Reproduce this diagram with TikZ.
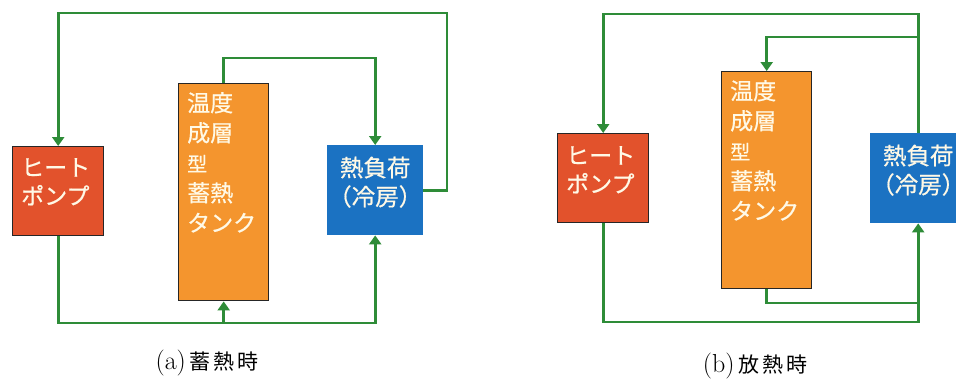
\documentclass[tikz,border=0pt]{standalone}
\usepackage{fontspec}
\newfontfamily\jp{Noto Sans CJK JP}
\newfontfamily\jpb[FakeBold=0.6]{Noto Sans CJK JP}
\usetikzlibrary{arrows.meta}
\definecolor{pipegreen}{HTML}{2E8C38}
\definecolor{hpred}{HTML}{E2522C}
\definecolor{tankor}{HTML}{F4952E}
\definecolor{loadblue}{HTML}{1B72C2}
\definecolor{txtcream}{HTML}{FFF9E6}
\tikzset{
  boxbase/.style={rectangle, inner sep=0pt, anchor=north west},
  hpbox/.style={boxbase, fill=hpred, draw=black!85, line width=1.4pt, minimum width=91pt, minimum height=89pt},
  tankbox/.style={boxbase, fill=tankor, draw=black!85, line width=1.4pt, minimum width=90pt, minimum height=217pt},
  loadbox/.style={boxbase, fill=loadblue, minimum width=96pt, minimum height=90pt},
  boxtext/.style={text=txtcream, font=\jpb\fontsize{23}{28.5}\selectfont, inner sep=0pt, anchor=north west, align=left},
  tanktext/.style={text=txtcream, font=\jpb\fontsize{23}{30}\selectfont, inner sep=0pt, anchor=north west, align=left},
  loadtext/.style={text=txtcream, font=\jpb\fontsize{23.5}{29}\selectfont, inner sep=0pt, align=center, yshift=8pt},
  pipe/.style={draw=pipegreen, line width=2.8pt, line join=miter},
  flowin/.style={pipe, -{Triangle[width=12pt,length=9pt]}},
  caption/.style={font=\fontsize{21}{24}\selectfont, inner sep=0pt}
}
\newcommand{\smallxing}{{\fontsize{20}{30}\selectfont 型}}
\newcommand{\caplabel}[1]{{\fontsize{26}{26}\selectfont (#1)}}
\begin{document}
\begin{tikzpicture}[x=1pt,y=-1pt]
\clip (0,0) rectangle (956,380);
\fill[white] (0,0) rectangle (956,380);
% ---------- (a) ----------
\node[hpbox] (hpa) at (12,146) {};
\node[tankbox] (tanka) at (178,83) {};
\node[loadbox] (loada) at (327,145) {};
\node[boxtext] (hpaT) at (21,158) {ヒート\\ポンプ};
\node[tanktext] (tankaT) at (187,92) {温度\\成層\\\smallxing\\蓄熱\\タンク};
\node[loadtext] (loadaT) at (loada.center) {熱負荷\\（冷房）};
\coordinate (ya1) at (0,13);
\coordinate (ya2) at (0,58);
\coordinate (ya3) at (0,323);
\coordinate (xa1) at (447,0);
\draw[flowin] (loada.east) -- (loada.east -| xa1) -- (xa1 |- ya1) -| (hpa.north);
\draw[flowin] (tanka.north) -- (tanka.north |- ya2) -| (loada.north);
\draw[flowin] (hpa.south) -- (hpa.south |- ya3) -| (loada.south);
\draw[flowin] (tanka.south |- ya3) -- (tanka.south);
\node[caption] (capa) at (207,363) {\caplabel{a}\,{\jp 蓄\hspace{3pt}熱\hspace{3pt}時}};
% ---------- (b) ----------
\node[hpbox] (hpb) at (557,133) {};
\node[tankbox] (tankb) at (721,71) {};
\node[loadbox] (loadb) at (870,133) {};
\node[boxtext] (hpbT) at (566,146) {ヒート\\ポンプ};
\node[tanktext] (tankbT) at (730,80) {温度\\成層\\\smallxing\\蓄熱\\タンク};
\node[loadtext] (loadbT) at (loadb.center) {熱負荷\\（冷房）};
\coordinate (yb1) at (0,14);
\coordinate (yb2) at (0,37);
\coordinate (yb3) at (0,303);
\coordinate (yb4) at (0,322);
\draw[flowin] (hpb.south) -- (hpb.south |- yb4) -| (loadb.south);
\draw[pipe] (tankb.south) -- (tankb.south |- yb3) -- (loadb.south |- yb3);
\draw[flowin] (loadb.north) -- (loadb.north |- yb1) -| (hpb.north);
\draw[flowin] (loadb.north |- yb2) -| (tankb.north);
\node[caption] (capb) at (755,366) {\caplabel{b}\,{\jp 放\hspace{3pt}熱\hspace{3pt}時}};
\end{tikzpicture}
\end{document}
